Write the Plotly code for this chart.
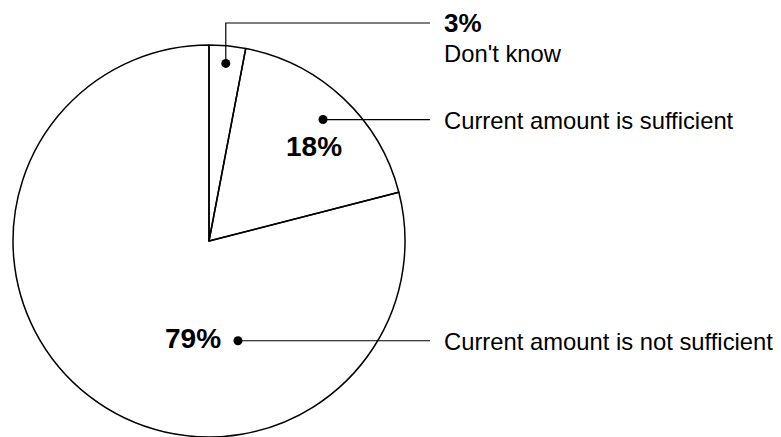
import math
import plotly.graph_objects as go

# ---- data ----
categories = ["Don't know", "Current amount is sufficient", "Current amount is not sufficient"]
values = [3, 18, 79]
pct_labels = ["3%", "18%", "79%"]

# ---- layout geometry (pixels) ----
W, H = 781, 437
cx, cy, R = 209, 241, 196
dot_angle = [5.4, 43.2, 163.8]      # degrees clockwise from 12 o'clock
dot_rfrac = [0.91, 0.85, 0.53]
label_x = 442
line_end_x = 430
label_y = [23, 120, 341]

fig = go.Figure()

fig.add_trace(go.Pie(
    values=values, labels=categories, sort=False, direction="clockwise", rotation=0,
    textinfo="none", hoverinfo="label+percent",
    marker=dict(colors=["rgba(0,0,0,0)"] * 3, line=dict(color="black", width=1.5)),
    domain=dict(x=[(cx - R) / W, (cx + R) / W], y=[(H - (cy + R)) / H, (H - (cy - R)) / H]),
    showlegend=False,
))

dots_x, dots_y = [], []
for a, f in zip(dot_angle, dot_rfrac):
    dots_x.append(cx + R * f * math.sin(math.radians(a)))
    dots_y.append(cy - R * f * math.cos(math.radians(a)))

# connector lines
for i in range(3):
    if i == 0:
        xs = [dots_x[i], dots_x[i], line_end_x]
        ys = [dots_y[i], label_y[i], label_y[i]]
    else:
        xs = [dots_x[i], line_end_x]
        ys = [dots_y[i], dots_y[i]]
    fig.add_trace(go.Scatter(x=xs, y=ys, mode="lines", line=dict(color="black", width=1.2),
                             hoverinfo="skip", showlegend=False))

fig.add_trace(go.Scatter(x=dots_x, y=dots_y, mode="markers",
                         marker=dict(color="black", size=9), hoverinfo="skip", showlegend=False))

font_reg = dict(family="Liberation Sans, Arial, sans-serif", size=23.8, color="black")
font_bold = dict(family="Liberation Sans, Arial, sans-serif", size=28, color="black")

annotations = [
    dict(x=label_x, y=label_y[0], text="<b>" + pct_labels[0] + "</b>", xanchor="left", yanchor="middle",
         font=dict(font_bold, size=26)),
    dict(x=label_x, y=53, text=categories[0], xanchor="left", yanchor="middle", font=font_reg),
    dict(x=label_x, y=label_y[1], text=categories[1], xanchor="left", yanchor="middle", font=font_reg),
    dict(x=314, y=146, text="<b>" + pct_labels[1] + "</b>", xanchor="center", yanchor="middle", font=font_bold),
    dict(x=label_x, y=label_y[2], text=categories[2], xanchor="left", yanchor="middle", font=font_reg),
    dict(x=223, y=338, text="<b>" + pct_labels[2] + "</b>", xanchor="right", yanchor="middle", font=font_bold),
]
for a in annotations:
    a.update(xref="x", yref="y", showarrow=False)

fig.update_layout(
    width=W, height=H, margin=dict(l=0, r=0, t=0, b=0),
    paper_bgcolor="white", plot_bgcolor="rgba(0,0,0,0)",
    xaxis=dict(range=[0, W], visible=False, fixedrange=True),
    yaxis=dict(range=[H, 0], visible=False, fixedrange=True),
    annotations=annotations,
)

fig.write_html("out.html", config={"displayModeBar": False},
               post_script="document.body.style.margin='0';document.body.style.overflow='hidden';")
